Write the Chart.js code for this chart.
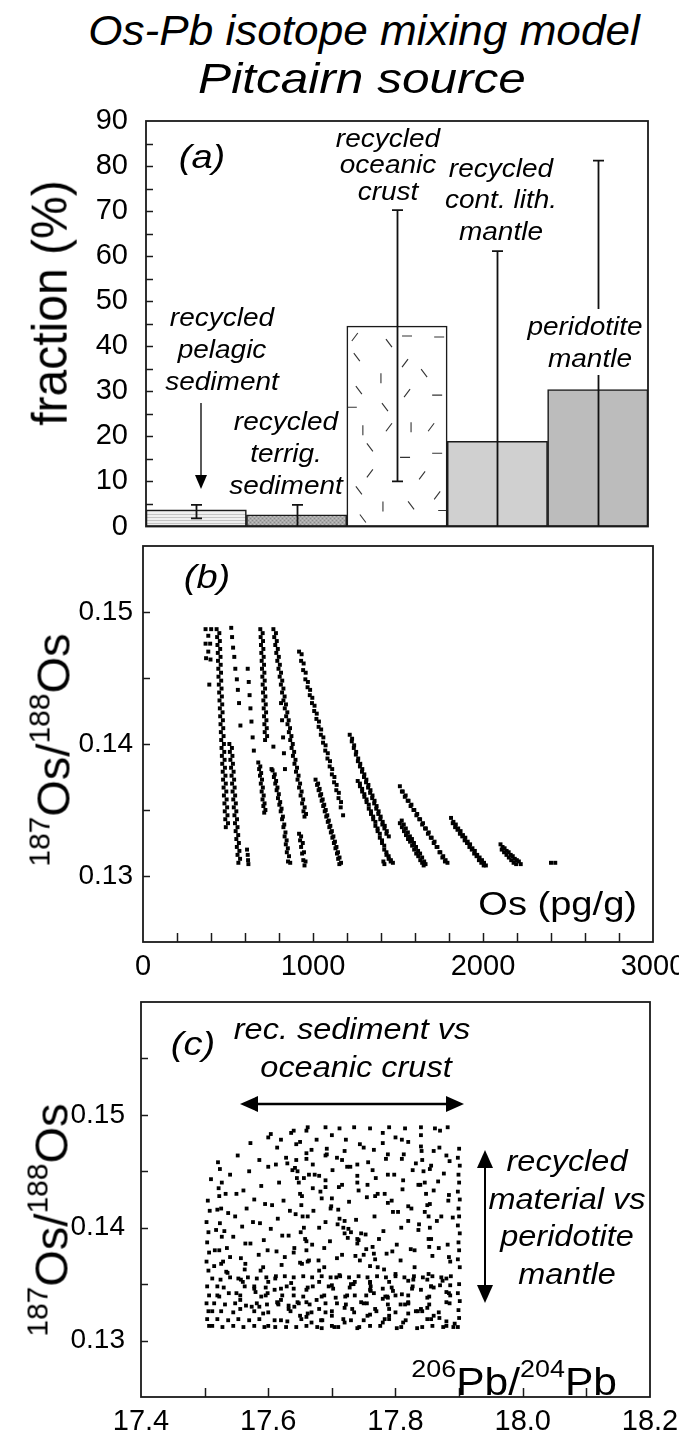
<!DOCTYPE html>
<html>
<head>
<meta charset="utf-8">
<script src="https://cdn.jsdelivr.net/npm/chart.js@4.4.1/dist/chart.umd.min.js"></script>
<style>
  html, body { margin:0; padding:0; background:#fff; }
  body { width:679px; height:1436px; position:relative; overflow:hidden; font-family:"Liberation Sans", Arial, sans-serif; color:#000; }
  canvas { position:absolute; left:0; z-index:0; }
  .lbl { position:absolute; white-space:nowrap; z-index:2; color:#000; }
  .box { position:absolute; background:#fff; z-index:1; }
  svg { position:absolute; left:0; top:0; z-index:3; }
</style>
</head>
<body>
<canvas id="chartA" width="679" height="445" style="top:100px"></canvas>
<canvas id="chartB" width="679" height="457" style="top:530px"></canvas>
<canvas id="chartC" width="679" height="449" style="top:987px"></canvas>
<svg width="679" height="1436">
  <line x1="201" y1="403" x2="201" y2="478" stroke="#000" stroke-width="1.3"/>
  <polygon points="195,475 207,475 201,489" fill="#000"/>
  <line x1="255" y1="1104" x2="449" y2="1104" stroke="#000" stroke-width="2.5"/>
  <polygon points="240,1104 258,1096 258,1112" fill="#000"/>
  <polygon points="464,1104 446,1096 446,1112" fill="#000"/>
  <line x1="485" y1="1165" x2="485" y2="1288" stroke="#000" stroke-width="2"/>
  <polygon points="485,1150 477,1168 493,1168" fill="#000"/>
  <polygon points="485,1303 477,1285 493,1285" fill="#000"/>
</svg>
<script>
// ================= DATA =================
// Panel (a)
const categories = ['recycled pelagic sediment', 'recycled terrig. sediment', 'recycled oceanic crust', 'recycled cont. lith. mantle', 'peridotite mantle'];
const fractions = [3.7, 2.6, 44.5, 18.9, 30.4];
const errLow  = [1.8, 0, 10, 0, 0];
const errHigh = [4.8, 4.8, 70.2, 61.1, 81.2];
const fractionTickLabels = [0, 10, 20, 30, 40, 50, 60, 70, 80, 90];

// Panel (b): Os (pg/g) vs 187Os/188Os, stripes
const bS1 = [[368,0.1487],[401,0.1487],[368,0.1476],[395,0.1476],[371,0.1465],[397,0.1464],[390,0.1445],[384,0.1482],[384,0.1470]];
const bS2 = [[433,0.1487],[436,0.1481],[438,0.1475],[440,0.1469],[441,0.1463],[443,0.1457],[444,0.1451],[446,0.1445],[448,0.1439],[450,0.1433],[452,0.1427],[454,0.1421],[456,0.1415],[458,0.1409],[460,0.1403],[462,0.1397],[464,0.1391],[466,0.1385],[469,0.1379],[471,0.1373],[474,0.1367],[476,0.1361],[479,0.1355],[481,0.1349],[484,0.1343],[487,0.1337]];
const bS2b = [[449,0.1484],[452,0.1478],[454,0.1472],[456,0.1466],[457,0.1460],[459,0.1454],[460,0.1448],[462,0.1442],[464,0.1436],[466,0.1430],[468,0.1424],[470,0.1418],[472,0.1412],[474,0.1406],[476,0.1400],[478,0.1394],[480,0.1388],[482,0.1382],[485,0.1376],[487,0.1370],[490,0.1364],[492,0.1358],[495,0.1352],[497,0.1346],[500,0.1340]];
const bS3 = [[519,0.1488],[524,0.1481],[530,0.1473],[537,0.1466],[543,0.1457],[552,0.1449],[558,0.1441],[565,0.1431],[573,0.1414]];
const bS4 = [[508,0.1400],[511,0.1394],[514,0.1388],[518,0.1382],[521,0.1376],[524,0.1370],[527,0.1364],[531,0.1358],[534,0.1352],[538,0.1346],[541,0.1340],[545,0.1334],[549,0.1328],[552,0.1322],[556,0.1316],[561,0.1310]];
const bS4b = [[523,0.1397],[526,0.1391],[529,0.1385],[533,0.1379],[536,0.1373],[539,0.1367],[542,0.1361],[546,0.1355],[549,0.1349],[553,0.1343],[556,0.1337],[560,0.1331],[564,0.1325],[567,0.1319],[571,0.1313]];
const bS5 = [[612,0.1320],[616,0.1316],[618,0.1312],[620,0.1309]];
const bS6 = [[616,0.1457],[622,0.1447],[627,0.1437],[632,0.1427],[638,0.1417],[645,0.1405],[652,0.1395],[678,0.1386],[683,0.1381],[688,0.1376],[693,0.1370],[698,0.1364],[703,0.1358],[708,0.1353],[713,0.1348]];
const bS6b = [[690,0.1383],[695,0.1378],[700,0.1373],[705,0.1367],[710,0.1361],[715,0.1355],[720,0.1350]];
const bS7 = [[690,0.1487],[692,0.1481],[694,0.1475],[696,0.1469],[698,0.1463],[700,0.1457],[702,0.1451],[704,0.1445],[706,0.1439],[708,0.1433],[710,0.1427],[712,0.1421],[714,0.1415],[716,0.1409],[718,0.1403]];
const bS7b = [[704,0.1484],[706,0.1478],[708,0.1472],[710,0.1466],[712,0.1460],[714,0.1454],[716,0.1448],[718,0.1442],[720,0.1436],[722,0.1430],[724,0.1424],[726,0.1418],[728,0.1412],[730,0.1406]];
const bS8 = [[762,0.1380],[770,0.1375],[778,0.1370],[786,0.1365],[794,0.1359],[802,0.1354],[810,0.1349],[818,0.1343],[826,0.1337],[833,0.1330],[840,0.1324],[846,0.1318],[853,0.1311]];
const bS8b = [[775,0.1377],[783,0.1372],[791,0.1367],[799,0.1362],[807,0.1356],[815,0.1351],[823,0.1345],[831,0.1339],[838,0.1333],[845,0.1327],[852,0.1321],[859,0.1315],[866,0.1310]];
const bS9 = [[767,0.1487],[772,0.1481],[778,0.1475],[784,0.1469],[790,0.1463],[797,0.1457],[804,0.1451],[811,0.1445],[818,0.1439],[826,0.1433],[834,0.1427],[842,0.1421],[850,0.1415],[858,0.1409],[866,0.1403],[874,0.1397],[882,0.1391],[891,0.1385],[900,0.1379],[909,0.1373],[918,0.1367],[927,0.1361],[936,0.1355],[944,0.1349],[950,0.1345]];
const bS9b = [[782,0.1484],[787,0.1478],[793,0.1472],[799,0.1466],[805,0.1460],[812,0.1454],[819,0.1448],[826,0.1442],[833,0.1436],[841,0.1430],[849,0.1424],[857,0.1418],[865,0.1412],[873,0.1406],[881,0.1400],[889,0.1394],[897,0.1388],[906,0.1382],[915,0.1376],[924,0.1370],[933,0.1364],[942,0.1358],[951,0.1352],[959,0.1347]];
const bS10 = [[812,0.1431],[818,0.1418],[824,0.1405],[829,0.1393],[835,0.1381],[767,0.1398],[756,0.1381]];
const bS11 = [[918,0.1332],[924,0.1327],[930,0.1322],[936,0.1317],[943,0.1312],[950,0.1308],[930,0.1330],[940,0.1325],[947,0.1318],[956,0.1311]];
const bS12 = [[918,0.1470],[930,0.1463],[942,0.1456],[955,0.1449],[968,0.1443],[981,0.1437],[994,0.1431],[1007,0.1425],[1020,0.1419],[1033,0.1413],[1046,0.1407],[1059,0.1401],[1072,0.1395],[1085,0.1389],[1098,0.1383],[1111,0.1377],[1124,0.1371],[1137,0.1365],[1150,0.1359],[1163,0.1352],[1177,0.1346]];
const bS12b = [[933,0.1468],[945,0.1461],[957,0.1454],[970,0.1447],[983,0.1441],[996,0.1435],[1009,0.1429],[1022,0.1423],[1035,0.1417],[1048,0.1411],[1061,0.1405],[1074,0.1399],[1087,0.1393],[1100,0.1387],[1113,0.1381],[1126,0.1375],[1139,0.1369],[1152,0.1363],[1165,0.1356]];
const bS13 = [[1015,0.1373],[1024,0.1369],[1033,0.1365],[1042,0.1361],[1051,0.1357],[1060,0.1353],[1069,0.1349],[1078,0.1345],[1087,0.1341],[1096,0.1337],[1105,0.1333],[1114,0.1329],[1123,0.1325],[1132,0.1321],[1141,0.1317],[1148,0.1313],[1155,0.1309]];
const bS13b = [[1030,0.1370],[1039,0.1366],[1048,0.1362],[1057,0.1358],[1066,0.1354],[1075,0.1350],[1084,0.1346],[1093,0.1342],[1102,0.1338],[1111,0.1334],[1120,0.1330],[1129,0.1326],[1138,0.1322],[1147,0.1318],[1156,0.1314],[1165,0.1310]];
const bS14 = [[1216,0.1407],[1228,0.1402],[1240,0.1397],[1252,0.1392],[1264,0.1387],[1276,0.1383],[1288,0.1379],[1300,0.1375],[1312,0.1371],[1324,0.1367],[1336,0.1363],[1348,0.1359],[1360,0.1355],[1372,0.1351],[1384,0.1347],[1396,0.1343],[1408,0.1339],[1420,0.1336],[1432,0.1332]];
const bS14b = [[1230,0.1404],[1242,0.1399],[1254,0.1394],[1266,0.1389],[1278,0.1385],[1290,0.1381],[1302,0.1377],[1314,0.1373],[1326,0.1369],[1338,0.1365],[1350,0.1361],[1362,0.1357],[1374,0.1353],[1386,0.1349],[1398,0.1345],[1410,0.1341],[1422,0.1338],[1434,0.1334],[1446,0.1330]];
const bS15 = [[1263,0.1372],[1276,0.1368],[1289,0.1364],[1302,0.1360],[1315,0.1356],[1328,0.1351],[1341,0.1347],[1354,0.1343],[1367,0.1338],[1380,0.1334],[1393,0.1329],[1406,0.1325],[1419,0.1320],[1432,0.1316],[1445,0.1313],[1457,0.1311]];
const bS15b = [[1276,0.1370],[1289,0.1366],[1302,0.1362],[1315,0.1358],[1328,0.1354],[1341,0.1349],[1354,0.1345],[1367,0.1341],[1380,0.1336],[1393,0.1332],[1406,0.1327],[1419,0.1323],[1432,0.1318],[1445,0.1315],[1458,0.1312],[1470,0.1310]];
const bS16 = [[1414,0.1311],[1420,0.1309]];
const bS17 = [[1511,0.1368],[1528,0.1364],[1545,0.1361],[1562,0.1357],[1579,0.1354],[1596,0.1350],[1613,0.1347],[1630,0.1343],[1647,0.1340],[1664,0.1336],[1681,0.1333],[1698,0.1329],[1715,0.1326],[1732,0.1322],[1749,0.1318],[1766,0.1315],[1780,0.1312],[1791,0.1310]];
const bS17b = [[1523,0.1364],[1540,0.1360],[1557,0.1357],[1574,0.1353],[1591,0.1350],[1608,0.1346],[1625,0.1343],[1642,0.1339],[1659,0.1336],[1676,0.1332],[1693,0.1329],[1710,0.1325],[1727,0.1322],[1744,0.1318],[1761,0.1314],[1776,0.1311]];
const bS18 = [[1511,0.1340],[1523,0.1337],[1535,0.1334],[1547,0.1331],[1559,0.1328],[1571,0.1326],[1583,0.1323],[1595,0.1320],[1607,0.1317],[1619,0.1315],[1631,0.1312],[1642,0.1310],[1651,0.1308]];
const bS18b = [[1522,0.1342],[1534,0.1339],[1546,0.1336],[1558,0.1333],[1570,0.1330],[1582,0.1328],[1594,0.1325],[1606,0.1322],[1618,0.1319],[1630,0.1317],[1642,0.1314],[1654,0.1311],[1662,0.1309]];
const bS19 = [[1812,0.1344],[1826,0.1341],[1840,0.1339],[1854,0.1336],[1868,0.1334],[1882,0.1331],[1896,0.1329],[1910,0.1326],[1924,0.1324],[1938,0.1321],[1952,0.1319],[1966,0.1316],[1980,0.1314],[1994,0.1312],[2006,0.1310],[2017,0.1308]];
const bS19b = [[1822,0.1340],[1836,0.1337],[1850,0.1335],[1864,0.1332],[1878,0.1330],[1892,0.1327],[1906,0.1325],[1920,0.1322],[1934,0.1320],[1948,0.1317],[1962,0.1315],[1976,0.1312],[1990,0.1310],[2004,0.1308]];
const bS20 = [[2103,0.1324],[2115,0.1322],[2127,0.1321],[2139,0.1319],[2151,0.1318],[2163,0.1316],[2175,0.1315],[2187,0.1313],[2199,0.1312],[2211,0.1311],[2222,0.1309]];
const bS20b = [[2110,0.1320],[2124,0.1318],[2138,0.1316],[2152,0.1314],[2166,0.1312],[2180,0.1310],[2195,0.1309]];
const bS21 = [[2400,0.1310],[2425,0.1310]];
const osTickLabels = [0, 1000, 2000, 3000];
const ratioTickLabels = [0.13, 0.14, 0.15];

// Panel (c): 206Pb/204Pb vs 187Os/188Os, lines of points
const cLeft = [[17.505,0.1424],[17.508,0.1415],[17.503,0.1405],[17.506,0.1396],[17.504,0.1387],[17.507,0.1378],[17.503,0.1370],[17.506,0.1362],[17.504,0.1348],[17.507,0.1340],[17.503,0.1333],[17.506,0.1326],[17.504,0.1319],[17.507,0.1313]];
const cLeft2 = [[17.524,0.1452],[17.527,0.1440],[17.523,0.1428],[17.526,0.1417],[17.524,0.1404],[17.527,0.1392],[17.523,0.1380],[17.526,0.1368]];
const cRight = [[17.900,0.1470],[17.898,0.1462],[17.901,0.1455],[17.899,0.1447],[17.900,0.1440],[17.898,0.1432],[17.901,0.1425],[17.899,0.1417],[17.900,0.1410],[17.898,0.1402],[17.901,0.1395],[17.899,0.1387],[17.900,0.1380],[17.898,0.1372],[17.901,0.1365],[17.900,0.1350],[17.898,0.1342],[17.901,0.1335],[17.899,0.1327],[17.900,0.1320],[17.898,0.1312]];
const cTop = [[17.521,0.1458],[17.552,0.1464],[17.572,0.1475],[17.604,0.1483],[17.636,0.1484],[17.662,0.1489],[17.690,0.1489],[17.712,0.1488],[17.735,0.1489],[17.760,0.1488],[17.790,0.1489],[17.815,0.1488],[17.840,0.1489],[17.862,0.1488],[17.882,0.1489]];
const cR1 = [[17.510,0.1443],[17.540,0.1447],[17.570,0.1450],[17.600,0.1454],[17.630,0.1457],[17.660,0.1461],[17.690,0.1464],[17.720,0.1468],[17.750,0.1471],[17.780,0.1475],[17.810,0.1478],[17.840,0.1482],[17.870,0.1486]];
const cR2 = [[17.533,0.1430],[17.561,0.1433],[17.589,0.1437],[17.617,0.1440],[17.645,0.1444],[17.673,0.1447],[17.701,0.1451],[17.729,0.1454],[17.757,0.1458],[17.785,0.1461],[17.813,0.1465],[17.841,0.1468],[17.869,0.1471]];
const cR3 = [[17.537,0.1413],[17.566,0.1417],[17.595,0.1421],[17.624,0.1424],[17.653,0.1428],[17.682,0.1432],[17.711,0.1436],[17.740,0.1440],[17.769,0.1444],[17.798,0.1447],[17.827,0.1451],[17.856,0.1455],[17.885,0.1459]];
const cR4 = [[17.531,0.1397],[17.559,0.1401],[17.587,0.1404],[17.615,0.1408],[17.643,0.1412],[17.671,0.1415],[17.699,0.1419],[17.727,0.1423],[17.755,0.1427],[17.783,0.1430],[17.811,0.1434],[17.839,0.1438],[17.867,0.1441]];
const cR5 = [[17.535,0.1382],[17.564,0.1386],[17.593,0.1389],[17.622,0.1393],[17.651,0.1396],[17.680,0.1400],[17.709,0.1403],[17.738,0.1407],[17.767,0.1410],[17.796,0.1414],[17.825,0.1417],[17.854,0.1421],[17.883,0.1424]];
const cR6 = [[17.529,0.1370],[17.557,0.1373],[17.585,0.1376],[17.613,0.1379],[17.641,0.1382],[17.669,0.1385],[17.697,0.1388],[17.725,0.1391],[17.753,0.1394],[17.781,0.1397],[17.809,0.1400],[17.837,0.1403],[17.865,0.1406],[17.890,0.1409]];
const cR7 = [[17.534,0.1361],[17.563,0.1363],[17.592,0.1365],[17.621,0.1367],[17.650,0.1369],[17.679,0.1371],[17.708,0.1373],[17.737,0.1375],[17.766,0.1377],[17.795,0.1379],[17.824,0.1381],[17.853,0.1383],[17.882,0.1385]];
const cBand = [[17.512,0.1355],[17.525,0.1354],[17.540,0.1356],[17.553,0.1355],[17.568,0.1356],[17.582,0.1355],[17.597,0.1356],[17.611,0.1355],[17.626,0.1357],[17.640,0.1356],[17.655,0.1357],[17.669,0.1356],[17.684,0.1357],[17.698,0.1356],[17.713,0.1357],[17.727,0.1356],[17.742,0.1357],[17.756,0.1356],[17.771,0.1357],[17.785,0.1356],[17.800,0.1357],[17.814,0.1356],[17.829,0.1357],[17.843,0.1356],[17.858,0.1357],[17.872,0.1356],[17.887,0.1357]];
const cR8 = [[17.520,0.1340],[17.550,0.1342],[17.580,0.1343],[17.610,0.1345],[17.640,0.1346],[17.670,0.1348],[17.700,0.1349],[17.730,0.1350],[17.760,0.1351],[17.790,0.1352],[17.820,0.1353],[17.850,0.1354],[17.880,0.1355]];
const cR9 = [[17.526,0.1326],[17.556,0.1328],[17.586,0.1330],[17.616,0.1332],[17.646,0.1334],[17.676,0.1336],[17.706,0.1338],[17.736,0.1340],[17.766,0.1342],[17.796,0.1344],[17.826,0.1346],[17.856,0.1348],[17.886,0.1349]];
const cR10 = [[17.700,0.1313],[17.730,0.1318],[17.760,0.1323],[17.790,0.1328],[17.820,0.1333],[17.850,0.1338],[17.880,0.1343]];
const cR11 = [[17.760,0.1313],[17.790,0.1319],[17.820,0.1324],[17.850,0.1329],[17.880,0.1334]];
const cR12 = [[17.600,0.1313],[17.630,0.1317],[17.660,0.1321],[17.690,0.1325],[17.720,0.1329],[17.750,0.1333],[17.780,0.1337],[17.810,0.1341],[17.840,0.1345],[17.870,0.1349]];
const cF1 = [[17.586,0.1460],[17.612,0.1456],[17.638,0.1451],[17.664,0.1447],[17.690,0.1442],[17.716,0.1438],[17.742,0.1433],[17.768,0.1428],[17.794,0.1424],[17.820,0.1419],[17.846,0.1414],[17.872,0.1410]];
const cF2 = [[17.620,0.1478],[17.644,0.1474],[17.668,0.1469],[17.692,0.1465],[17.716,0.1460],[17.740,0.1456],[17.764,0.1451],[17.788,0.1447],[17.812,0.1442],[17.836,0.1438],[17.860,0.1433],[17.884,0.1429]];
const cF3 = [[17.700,0.1482],[17.722,0.1478],[17.744,0.1474],[17.766,0.1469],[17.788,0.1465],[17.810,0.1461],[17.832,0.1457],[17.854,0.1452],[17.876,0.1448]];
const cF4 = [[17.780,0.1484],[17.800,0.1480],[17.820,0.1476],[17.840,0.1472],[17.860,0.1468],[17.880,0.1464]];
const cF5 = [[17.522,0.1435],[17.550,0.1430],[17.578,0.1425],[17.606,0.1420],[17.634,0.1415],[17.662,0.1410],[17.690,0.1405],[17.718,0.1400],[17.746,0.1395],[17.774,0.1390],[17.802,0.1385],[17.830,0.1380],[17.858,0.1375],[17.886,0.1370]];
const cF6 = [[17.520,0.1416],[17.548,0.1410],[17.576,0.1405],[17.604,0.1399],[17.632,0.1393],[17.660,0.1388],[17.688,0.1382],[17.716,0.1376],[17.744,0.1371],[17.772,0.1365],[17.800,0.1359],[17.828,0.1354],[17.856,0.1348],[17.884,0.1342]];
const cF7 = [[17.518,0.1398],[17.545,0.1392],[17.572,0.1386],[17.599,0.1380],[17.626,0.1374],[17.653,0.1368],[17.680,0.1362],[17.707,0.1356],[17.734,0.1350],[17.761,0.1344],[17.788,0.1338],[17.815,0.1332],[17.842,0.1326],[17.869,0.1320],[17.893,0.1315]];
const cF8 = [[17.516,0.1380],[17.540,0.1374],[17.564,0.1368],[17.588,0.1362],[17.612,0.1357],[17.636,0.1351],[17.660,0.1345],[17.684,0.1339],[17.708,0.1333],[17.732,0.1328],[17.756,0.1322],[17.780,0.1316],[17.802,0.1311]];
const cF9 = [[17.515,0.1366],[17.536,0.1360],[17.557,0.1354],[17.578,0.1348],[17.599,0.1342],[17.620,0.1336],[17.641,0.1330],[17.662,0.1324],[17.683,0.1318],[17.704,0.1312]];
const cF10 = [[17.520,0.1348],[17.538,0.1342],[17.556,0.1336],[17.574,0.1330],[17.592,0.1324],[17.610,0.1318],[17.628,0.1312]];
const cF11 = [[17.640,0.1378],[17.664,0.1371],[17.688,0.1365],[17.712,0.1358],[17.736,0.1352],[17.760,0.1345],[17.784,0.1339],[17.808,0.1332],[17.832,0.1326],[17.856,0.1319],[17.880,0.1313]];
const cF12 = [[17.720,0.1395],[17.742,0.1389],[17.764,0.1383],[17.786,0.1377],[17.808,0.1371],[17.830,0.1365],[17.852,0.1359],[17.874,0.1353]];
const cF13 = [[17.560,0.1352],[17.578,0.1346],[17.596,0.1340],[17.614,0.1334],[17.632,0.1328],[17.650,0.1322],[17.668,0.1316],[17.684,0.1311]];
const cF14 = [[17.600,0.1352],[17.620,0.1346],[17.640,0.1340],[17.660,0.1334],[17.680,0.1328],[17.700,0.1322],[17.720,0.1316],[17.740,0.1311]];
const cF15 = [[17.680,0.1352],[17.702,0.1346],[17.724,0.1340],[17.746,0.1334],[17.768,0.1328],[17.790,0.1322],[17.812,0.1316],[17.834,0.1311]];
const cF16 = [[17.760,0.1352],[17.780,0.1346],[17.800,0.1340],[17.820,0.1334],[17.840,0.1328],[17.860,0.1322],[17.880,0.1317]];
const cF17 = [[17.660,0.1486],[17.676,0.1478],[17.692,0.1470],[17.708,0.1462],[17.724,0.1454],[17.740,0.1446],[17.756,0.1438],[17.772,0.1430],[17.788,0.1422],[17.804,0.1414],[17.820,0.1406],[17.836,0.1398],[17.852,0.1390],[17.868,0.1382],[17.884,0.1374]];
const cF18 = [[17.600,0.1480],[17.614,0.1471],[17.628,0.1462],[17.642,0.1453],[17.656,0.1444],[17.670,0.1435],[17.684,0.1426],[17.698,0.1417],[17.712,0.1408],[17.726,0.1399],[17.740,0.1390],[17.754,0.1381],[17.768,0.1372],[17.782,0.1363]];
const cF19 = [[17.640,0.1486],[17.650,0.1476],[17.660,0.1466],[17.670,0.1456],[17.680,0.1446],[17.690,0.1436],[17.700,0.1426],[17.710,0.1416],[17.720,0.1406],[17.730,0.1396],[17.740,0.1386],[17.750,0.1376],[17.760,0.1366]];
const cV1 = [[17.644,0.1460],[17.646,0.1450],[17.648,0.1440],[17.650,0.1430],[17.652,0.1420],[17.654,0.1410],[17.656,0.1400],[17.658,0.1390],[17.660,0.1380],[17.662,0.1370]];
const cV2 = [[17.842,0.1460],[17.844,0.1450],[17.846,0.1440],[17.848,0.1430],[17.850,0.1420],[17.852,0.1410],[17.854,0.1400],[17.856,0.1390]];
const cBot1 = [[17.512,0.1313],[17.528,0.1312],[17.545,0.1313],[17.561,0.1312],[17.578,0.1313],[17.594,0.1312],[17.611,0.1312],[17.644,0.1312],[17.660,0.1313],[17.677,0.1312],[17.710,0.1312],[17.743,0.1312],[17.776,0.1313],[17.809,0.1312],[17.842,0.1312],[17.858,0.1313],[17.875,0.1312],[17.891,0.1312]];
const cBot2 = [[17.520,0.1319],[17.537,0.1318],[17.553,0.1319],[17.570,0.1318],[17.586,0.1319],[17.620,0.1318],[17.652,0.1319],[17.685,0.1318],[17.718,0.1319],[17.750,0.1318],[17.783,0.1319],[17.816,0.1318],[17.850,0.1319]];
const cBot3 = [[17.512,0.1326],[17.545,0.1325],[17.578,0.1326],[17.600,0.1325],[17.635,0.1326],[17.668,0.1325],[17.700,0.1326],[17.735,0.1325],[17.770,0.1326],[17.800,0.1325],[17.835,0.1326],[17.868,0.1325]];
const cBot4 = [[17.515,0.1333],[17.532,0.1332],[17.548,0.1333],[17.565,0.1331],[17.582,0.1333],[17.598,0.1332],[17.615,0.1333],[17.632,0.1331],[17.648,0.1333],[17.665,0.1332],[17.690,0.1333],[17.722,0.1332],[17.755,0.1333],[17.788,0.1332],[17.820,0.1333],[17.853,0.1332],[17.885,0.1333]];
const cBot5 = [[17.523,0.1339],[17.556,0.1340],[17.589,0.1339],[17.622,0.1340],[17.655,0.1339],[17.688,0.1340],[17.721,0.1339],[17.754,0.1340],[17.787,0.1339],[17.820,0.1340],[17.853,0.1339],[17.886,0.1340]];
const cBot6 = [[17.530,0.1347],[17.563,0.1348],[17.596,0.1347],[17.629,0.1348],[17.662,0.1347],[17.695,0.1348],[17.728,0.1347],[17.761,0.1348],[17.794,0.1347],[17.827,0.1348],[17.860,0.1347]];
const pbTickLabels = [17.4, 17.6, 17.8, 18.0, 18.2];

// ================= HELPERS =================
const FONT = '"Liberation Sans", Arial, sans-serif';
const tickFont = { family: FONT, size: 29 };
const tickFontC = { family: FONT, size: 28 };
const toXY = arr => arr.map(p => ({ x: p[0], y: p[1] }));
const near = (v, list) => list.some(t => Math.abs(t - v) < 1e-7);

const framePlugin = {
  id: 'frame',
  afterDraw(chart, args, opts) {
    const { ctx, chartArea: a, scales } = chart;
    ctx.save();
    ctx.strokeStyle = '#1a1a1a';
    ctx.lineWidth = 1.8;
    ctx.strokeRect(a.left, a.top, a.right - a.left, a.bottom - a.top);
    ctx.lineWidth = 1.5;
    if (opts.yTicks) {
      scales.y.ticks.forEach(t => {
        const y = Math.round(scales.y.getPixelForValue(t.value)) + 0.5;
        if (y < a.top + 2 || y > a.bottom - 2) return;
        ctx.beginPath(); ctx.moveTo(a.left, y); ctx.lineTo(a.left + 7, y); ctx.stroke();
      });
    }
    if (opts.xTicks) {
      scales.x.ticks.forEach(t => {
        const x = Math.round(scales.x.getPixelForValue(t.value)) + 0.5;
        if (x < a.left + 2 || x > a.right - 2) return;
        ctx.beginPath(); ctx.moveTo(x, a.bottom); ctx.lineTo(x, a.bottom - 9); ctx.stroke();
      });
    }
    ctx.restore();
  }
};

function makePattern(w, h, draw) {
  const c = document.createElement('canvas');
  c.width = w; c.height = h;
  const g = c.getContext('2d');
  draw(g, w, h);
  return g.createPattern(c, 'repeat');
}
const pelagicFill = makePattern(4, 3, (g, w, h) => {
  g.fillStyle = '#efefef'; g.fillRect(0, 0, w, h);
  g.fillStyle = '#c4c4c4'; g.fillRect(0, 0, w, 1);
});
const terrigFill = makePattern(4, 4, (g, w, h) => {
  g.fillStyle = '#a9a9a9'; g.fillRect(0, 0, w, h);
  g.fillStyle = '#8a8a8a'; g.fillRect(0, 0, 1, 1); g.fillRect(2, 2, 1, 1);
  g.fillStyle = '#c0c0c0'; g.fillRect(2, 0, 1, 1); g.fillRect(0, 2, 1, 1);
});

const crustDashes = [[8,11,'/'],[42,17,'\\'],[60,10,'-'],[92,11,'-'],[10,31,'\\'],[58,37,'/'],[34,52,'|'],[77,47,'\\'],[12,64,'\\'],[60,67,'/'],[90,69,'-'],[5,81,'-'],[38,81,'\\'],[16,104,'|'],[42,101,'/'],[64,101,'|'],[84,101,'/'],[23,121,'\\'],[58,131,'-'],[90,127,'-'],[23,147,'/'],[75,149,'/'],[12,164,'\\'],[90,169,'/'],[36,180,'|'],[64,179,'\\'],[16,192,'\\'],[96,184,'-']];

const barDecoPlugin = {
  id: 'barDeco',
  afterDatasetsDraw(chart) {
    const ctx = chart.ctx;
    const meta = chart.getDatasetMeta(0);
    const ys = chart.scales.y;
    ctx.save();
    const b = meta.data[2];
    const left = b.x - b.width / 2, top = b.y, h = b.base - b.y, w = b.width;
    ctx.beginPath(); ctx.rect(left + 1, top + 1, w - 2, h - 2); ctx.clip();
    ctx.strokeStyle = '#333'; ctx.lineWidth = 1.1;
    crustDashes.forEach(([dx, dy, s]) => {
      const cx = left + dx / 100 * w, cy = top + dy / 200 * h;
      const L = 5;
      let vx = 0, vy = 0;
      if (s === '-') { vx = L; vy = 0; }
      else if (s === '|') { vx = 0; vy = L; }
      else if (s === '/') { vx = L * 0.6; vy = -L * 0.8; }
      else { vx = L * 0.6; vy = L * 0.8; }
      ctx.beginPath(); ctx.moveTo(cx - vx, cy - vy); ctx.lineTo(cx + vx, cy + vy); ctx.stroke();
    });
    ctx.restore();
    ctx.save();
    ctx.strokeStyle = '#111'; ctx.lineWidth = 1.8;
    meta.data.forEach((bar, i) => {
      const x = Math.round(bar.x) + 0.5;
      const yh = ys.getPixelForValue(errHigh[i]);
      const yl = ys.getPixelForValue(errLow[i]);
      ctx.beginPath();
      ctx.moveTo(x, yh); ctx.lineTo(x, yl);
      ctx.moveTo(x - 5.5, yh); ctx.lineTo(x + 5.5, yh);
      if (errLow[i] > 0) { ctx.moveTo(x - 5.5, yl); ctx.lineTo(x + 5.5, yl); }
      ctx.stroke();
    });
    ctx.restore();
  }
};

const commonOpts = {
  responsive: false,
  animation: false,
  events: [],
  plugins: { legend: { display: false }, tooltip: { enabled: false } }
};

// ================= CHART (a) =================
new Chart(document.getElementById('chartA'), {
  type: 'bar',
  data: {
    labels: categories,
    datasets: [{
      data: fractions,
      backgroundColor: [pelagicFill, terrigFill, '#ffffff', '#d0d0d0', '#bcbcbc'],
      borderColor: '#1a1a1a',
      borderWidth: 1.6,
      borderSkipped: false,
      barPercentage: 1,
      categoryPercentage: 1
    }]
  },
  options: Object.assign({}, commonOpts, {
    layout: { padding: { left: 0, right: 31, top: 21, bottom: 18.5 } },
    plugins: Object.assign({}, commonOpts.plugins, { frame: { yTicks: true } }),
    scales: {
      x: { display: false },
      y: {
        min: 0, max: 90,
        afterFit(s) { s.width = 146; s.paddingTop = 0; s.paddingBottom = 0; },
        grid: { display: false, drawTicks: false },
        border: { display: false },
        ticks: { stepSize: 5, autoSkip: false, padding: 18, color: '#000', font: tickFont,
          callback: v => near(v, fractionTickLabels) ? String(Math.round(v)) : '' }
      }
    }
  }),
  plugins: [barDecoPlugin, framePlugin]
});

// ================= CHART (b) =================
const bAll = [].concat(bS1, bS2, bS2b, bS3, bS4, bS4b, bS5, bS6, bS6b, bS7, bS7b, bS8, bS8b, bS9, bS9b, bS10, bS11, bS12, bS12b, bS13, bS13b, bS14, bS14b, bS15, bS15b, bS16, bS17, bS17b, bS18, bS18b, bS19, bS19b, bS20, bS20b, bS21);
new Chart(document.getElementById('chartB'), {
  type: 'scatter',
  data: { datasets: [{ data: toXY(bAll), pointStyle: 'rect', pointRadius: 2.8, backgroundColor: '#000', borderWidth: 0 }] },
  options: Object.assign({}, commonOpts, {
    layout: { padding: { left: 0, right: 26, top: 16, bottom: 0 } },
    plugins: Object.assign({}, commonOpts.plugins, { frame: { xTicks: true, yTicks: true } }),
    scales: {
      x: {
        type: 'linear', min: 0, max: 3000,
        afterFit(s) { s.height = 45; s.paddingLeft = 0; s.paddingRight = 0; },
        grid: { display: false, drawTicks: false }, border: { display: false },
        ticks: { stepSize: 200, autoSkip: false, maxRotation: 0, padding: 8, color: '#000', font: tickFont,
          callback: v => near(v, osTickLabels) ? String(Math.round(v)) : '' }
      },
      y: {
        min: 0.125, max: 0.155,
        afterFit(s) { s.width = 143; s.paddingTop = 0; s.paddingBottom = 0; },
        grid: { display: false, drawTicks: false }, border: { display: false },
        ticks: { stepSize: 0.005, autoSkip: false, padding: 10, color: '#000', font: tickFontC,
          callback: v => near(v, ratioTickLabels) ? v.toFixed(2) : '' }
      }
    }
  }),
  plugins: [framePlugin]
});

// ================= CHART (c) =================
const cAll = [].concat(cLeft, cLeft2, cRight, cTop, cR1, cR2, cR3, cR4, cR5, cR6, cR7, cBand, cR8, cR9, cR10, cR11, cR12, cF1, cF2, cF3, cF4, cF5, cF6, cF7, cF8, cF9, cF10, cF11, cF12, cF13, cF14, cF15, cF16, cF17, cF18, cF19, cV1, cV2, cBot1, cBot2, cBot3, cBot4, cBot5, cBot6);
new Chart(document.getElementById('chartC'), {
  type: 'scatter',
  data: { datasets: [{ data: toXY(cAll), pointStyle: 'rect', pointRadius: 2.7, backgroundColor: '#000', borderWidth: 0 }] },
  options: Object.assign({}, commonOpts, {
    layout: { padding: { left: 0, right: 29, top: 15, bottom: 0 } },
    plugins: Object.assign({}, commonOpts.plugins, { frame: { xTicks: true, yTicks: true } }),
    scales: {
      x: {
        type: 'linear', min: 17.4, max: 18.2,
        afterFit(s) { s.height = 39; s.paddingLeft = 0; s.paddingRight = 0; },
        grid: { display: false, drawTicks: false }, border: { display: false },
        ticks: { stepSize: 0.1, autoSkip: false, maxRotation: 0, padding: 8, color: '#000', font: tickFont,
          callback: v => near(v, pbTickLabels) ? v.toFixed(1) : '' }
      },
      y: {
        min: 0.125, max: 0.160,
        afterFit(s) { s.width = 141; s.paddingTop = 0; s.paddingBottom = 0; },
        grid: { display: false, drawTicks: false }, border: { display: false },
        ticks: { stepSize: 0.005, autoSkip: false, padding: 16, color: '#000', font: tickFontC,
          callback: v => near(v, ratioTickLabels) ? v.toFixed(2) : '' }
      }
    }
  }),
  plugins: [framePlugin]
});

// ================= TEXT =================
const SX = 1.12;
function addLabel(html, x, base, size, opt = {}) {
  const d = document.createElement('div');
  d.className = 'lbl';
  d.innerHTML = html;
  d.style.fontSize = size + 'px';
  d.style.lineHeight = size + 'px';
  if (opt.italic) d.style.fontStyle = 'italic';
  d.style.left = x + 'px';
  d.style.top = (base - 0.8465 * size) + 'px';
  const sx = opt.sx || SX;
  const align = opt.align || 'center';
  if (align === 'center') { d.style.transformOrigin = '50% 50%'; d.style.transform = `translateX(-50%) scaleX(${sx})`; }
  else if (align === 'right') { d.style.transformOrigin = '100% 50%'; d.style.transform = `translateX(-100%) scaleX(${sx})`; }
  else { d.style.transformOrigin = '0 50%'; d.style.transform = `scaleX(${sx})`; }
  document.body.appendChild(d);
  return d;
}
function addRotLabel(html, cx, cy, size, sy = SX) {
  const d = document.createElement('div');
  d.className = 'lbl';
  d.innerHTML = html;
  d.style.fontSize = size + 'px';
  d.style.lineHeight = size + 'px';
  d.style.left = cx + 'px';
  d.style.top = cy + 'px';
  d.style.transformOrigin = '0 0';
  d.style.transform = `rotate(-90deg) scale(1, ${sy}) translate(-50%, -50%)`;
  document.body.appendChild(d);
  return d;
}
function addBox(l, t, w, h) {
  const d = document.createElement('div');
  d.className = 'box';
  Object.assign(d.style, { left: l + 'px', top: t + 'px', width: w + 'px', height: h + 'px' });
  document.body.appendChild(d);
}
const sup = (s, px, raise) => `<span style="font-size:${px}px;vertical-align:${raise}px">${s}</span>`;

// title
addLabel('Os-Pb isotope mixing model', 364, 46, 42, { italic: true, sx: 1.05 });
addLabel('Pitcairn source', 362, 94, 42, { italic: true, sx: 1.18 });

// panel a
addRotLabel('fraction (%)', 50, 303, 48, 1.05);
addLabel('(a)', 202, 168, 34, { italic: true });
addLabel('recycled', 222, 326, 25, { italic: true });
addLabel('pelagic', 222, 358, 25, { italic: true });
addLabel('sediment', 222, 390, 25, { italic: true });
addLabel('recycled', 286, 430, 25, { italic: true });
addLabel('terrig.', 286, 462, 25, { italic: true });
addLabel('sediment', 286, 494, 25, { italic: true });
addLabel('recycled', 388, 147, 25, { italic: true });
addLabel('oceanic', 388, 173, 25, { italic: true });
addLabel('crust', 388, 200, 25, { italic: true });
addLabel('recycled', 501, 177, 25, { italic: true });
addLabel('cont. lith.', 501, 208, 25, { italic: true });
addLabel('mantle', 501, 240, 25, { italic: true });
addBox(590, 309, 16, 66);
addLabel('peridotite', 585, 335, 25, { italic: true });
addLabel('mantle', 590, 367, 25, { italic: true });

// panel b
addRotLabel(sup('187', 30, 20) + 'Os/' + sup('188', 30, 20) + 'Os', 46, 750, 47, 1.0);
addLabel('(b)', 207, 588, 34, { italic: true });
addLabel('Os (pg/g)', 637, 915, 34, { align: 'right' });

// panel c
addRotLabel(sup('187', 30, 20) + 'Os/' + sup('188', 30, 20) + 'Os', 44, 1220, 47, 1.0);
addLabel('(c)', 193, 1055, 34, { italic: true });
addLabel('rec. sediment vs', 352, 1040, 29, { italic: true });
addLabel('oceanic crust', 356, 1078, 29, { italic: true });
addLabel('recycled', 567, 1172, 29, { italic: true });
addLabel('material vs', 567, 1210, 29, { italic: true });
addLabel('peridotite', 567, 1247, 29, { italic: true });
addLabel('mantle', 567, 1285, 29, { italic: true });
addLabel(sup('206', 24, 18) + 'Pb/' + sup('204', 24, 18) + 'Pb', 617, 1382, 38, { align: 'right' });
</script>
</body>
</html>
